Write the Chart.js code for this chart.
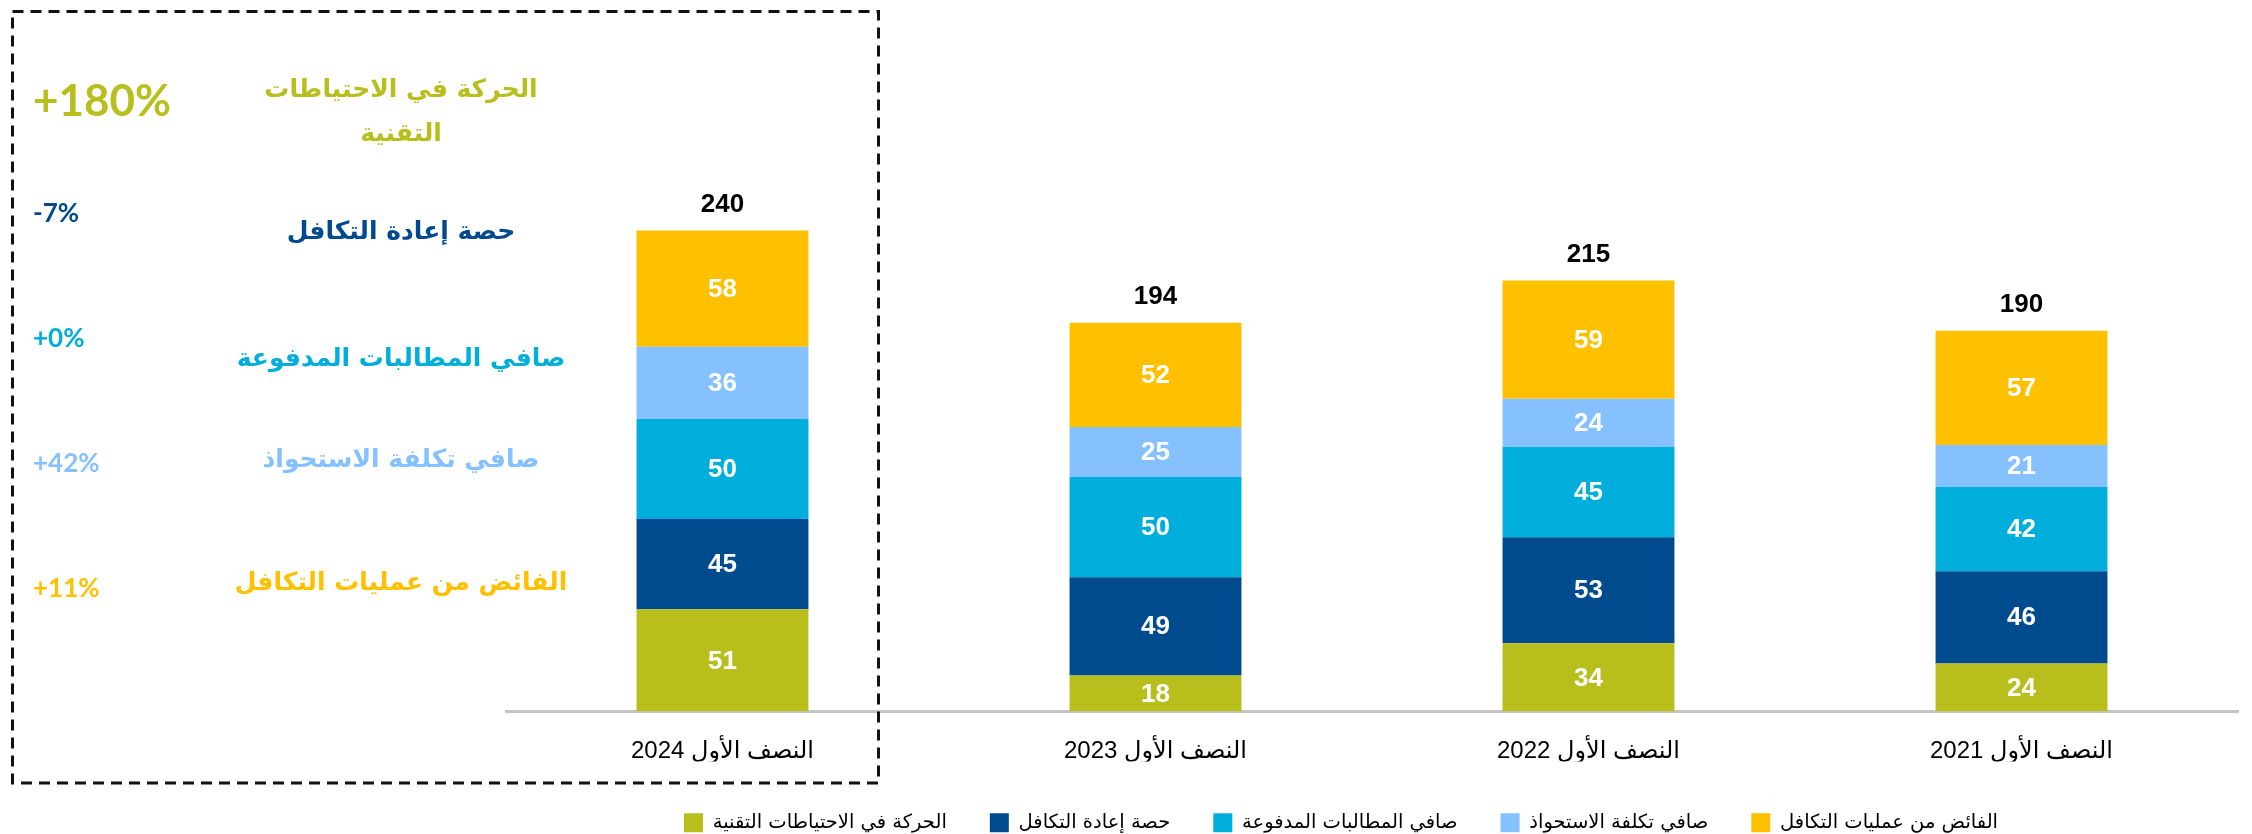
<!DOCTYPE html>
<html lang="ar">
<head>
<meta charset="utf-8">
<script src="https://cdn.jsdelivr.net/npm/chart.js@4.4.1/dist/chart.umd.min.js"></script>
<style>
  html, body { margin: 0; padding: 0; background: #ffffff; }
  #wrap { width: 2252px; height: 834px; }
  canvas { direction: rtl; }
</style>
</head>
<body>
<div id="wrap"><canvas id="c" width="2252" height="834"></canvas></div>
<script>
// ---- Data ----
const categories = ["النصف الأول 2024", "النصف الأول 2023", "النصف الأول 2022", "النصف الأول 2021"];
const seriesNames = [
  "الحركة في الاحتياطات التقنية",
  "حصة إعادة التكافل",
  "صافي المطالبات المدفوعة",
  "صافي تكلفة الاستحواذ",
  "الفائض من عمليات التكافل"
];
const technicalReserves = [51, 18, 34, 24];
const retakafulShare   = [45, 49, 53, 46];
const netClaimsPaid    = [50, 50, 45, 42];
const netAcquisition   = [36, 25, 24, 21];
const takafulSurplus   = [58, 52, 59, 57];
const seriesColors = ["#B8BF1D", "#004B8D", "#00AEDB", "#85C1FF", "#FFC000"];

// Left-hand annotation panel (change H1 2024 vs H1 2023)
const annotationPercents = ["+180%", "-7%", "+0%", "+42%", "+11%"];
const annotationTitles = [
  ["الحركة في الاحتياطات", "التقنية"],
  ["حصة إعادة التكافل"],
  ["صافي المطالبات المدفوعة"],
  ["صافي تكلفة الاستحواذ"],
  ["الفائض من عمليات التكافل"]
];

const seriesData = [technicalReserves, retakafulShare, netClaimsPaid, netAcquisition, takafulSurplus];
const totals = categories.map((_, i) => seriesData.reduce((s, arr) => s + arr[i], 0));

const LATIN = "'Liberation Sans', Arial, 'DejaVu Sans', sans-serif";
const CAL = "Lato, 'DejaVu Sans', sans-serif";

// ---- Plugins ----
const segmentLabels = {
  id: 'segmentLabels',
  afterDatasetsDraw(chart) {
    const ctx = chart.ctx;
    ctx.save();
    ctx.direction = 'ltr';
    ctx.textAlign = 'center';
    ctx.textBaseline = 'middle';
    ctx.font = "bold 26px " + LATIN;
    ctx.fillStyle = '#ffffff';
    chart.data.datasets.forEach((ds, di) => {
      const meta = chart.getDatasetMeta(di);
      meta.data.forEach((el, i) => {
        const cy = (el.y + el.base) / 2;
        ctx.fillText(String(ds.data[i]), el.x, cy + 1);
      });
    });
    // totals above the stacks
    const topMeta = chart.getDatasetMeta(chart.data.datasets.length - 1);
    ctx.fillStyle = '#000000';
    topMeta.data.forEach((el, i) => {
      ctx.fillText(String(totals[i]), el.x, el.y - 26);
    });
    ctx.restore();
  }
};

const annotationPanel = {
  id: 'annotationPanel',
  afterDraw(chart) {
    const ctx = chart.ctx;
    ctx.save();
    // dashed frame around H1 2024
    ctx.setLineDash([11, 7]);
    ctx.lineWidth = 3;
    ctx.strokeStyle = '#111111';
    ctx.strokeRect(12.5, 11.5, 866, 771.5);
    ctx.setLineDash([]);

    const pctY = [102, 214, 339, 464, 589];
    const pctSize = [44, 26, 26, 26, 26];
    const titleY = [[90, 134], [232], [359], [460], [583]];
    ctx.textBaseline = 'middle';
    for (let k = 0; k < annotationPercents.length; k++) {
      ctx.fillStyle = seriesColors[k];
      ctx.direction = 'ltr';
      ctx.textAlign = 'left';
      ctx.font = "bold " + pctSize[k] + "px " + CAL;
      ctx.fillText(annotationPercents[k], 33, pctY[k]);
      ctx.direction = 'rtl';
      ctx.textAlign = 'center';
      ctx.font = "bold 25px 'DejaVu Sans', sans-serif";
      annotationTitles[k].forEach((line, j) => {
        ctx.fillText(line, 401, titleY[k][j]);
      });
    }
    ctx.restore();
  }
};

const legendPlacer = {
  id: 'legendPlacer',
  afterLayout(chart) {
    const lg = chart.legend;
    if (!lg) return;
    const pad = lg.options.labels.padding;
    const h = lg.height;
    lg.top = 813 - pad;
    lg.bottom = lg.top + h;
    lg.left = 684 - pad;
  }
};

// ---- Chart ----
new Chart(document.getElementById('c'), {
  type: 'bar',
  data: {
    labels: categories,
    datasets: seriesData.map((arr, i) => ({
      label: seriesNames[i],
      data: arr,
      backgroundColor: seriesColors[i],
      borderWidth: 0,
      barPercentage: 0.397,
      categoryPercentage: 1.0
    }))
  },
  options: {
    responsive: false,
    animation: false,
    devicePixelRatio: 1,
    layout: { padding: { left: 506, right: 14, top: 0, bottom: 0 } },
    plugins: {
      legend: {
        position: 'bottom',
        align: 'start',
        labels: {
          boxWidth: 19,
          boxHeight: 19,
          padding: 43,
          color: '#000000',
          font: { size: 19.5, family: "'DejaVu Sans', sans-serif" }
        }
      },
      tooltip: { enabled: false }
    },
    scales: {
      x: {
        stacked: true,
        grid: { display: false, drawTicks: false },
        border: { display: true, color: '#C4C4C4', width: 3 },
        ticks: {
          color: '#000000',
          padding: 25,
          font: { size: 24, family: LATIN }
        },
        afterFit(scale) { scale.height = 50; }
      },
      y: {
        stacked: true,
        display: false,
        min: 0,
        max: 355
      }
    }
  },
  plugins: [segmentLabels, annotationPanel, legendPlacer]
});
</script>
</body>
</html>
